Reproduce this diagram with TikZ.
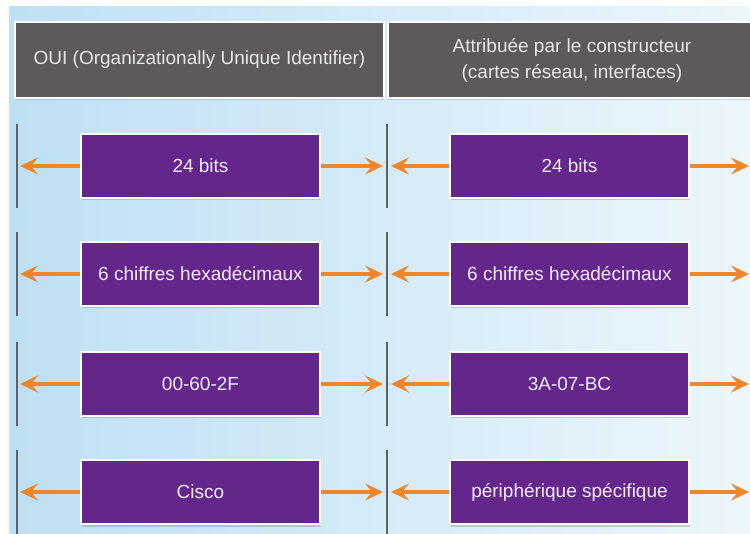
\documentclass[tikz,border=0pt]{standalone}
\usepackage{fontspec}
\setmainfont{Liberation Sans}
\usetikzlibrary{arrows.meta,shadows}
\definecolor{hdr}{RGB}{94,90,90}
\definecolor{hdrtxt}{RGB}{232,232,232}
\definecolor{purp}{RGB}{99,38,139}
\definecolor{fieldtxt}{RGB}{243,236,248}
\definecolor{org}{RGB}{240,134,42}
\definecolor{vline}{RGB}{92,98,106}
\definecolor{bgL}{RGB}{190,224,243}
\definecolor{bgR}{RGB}{236,246,251}
\begin{document}
\begin{tikzpicture}[x=1pt,y=-1pt,
  hdrbox/.style={draw=white, line width=2pt, fill=hdr, text=hdrtxt,
    font=\fontsize{19}{26}\selectfont, align=center, inner sep=0pt,
    minimum height=76pt,
    drop shadow={opacity=0.3, shadow xshift=0pt, shadow yshift=-2.5pt}},
  fieldbox/.style={draw=white, line width=1.5pt, fill=purp, text=fieldtxt,
    font=\fontsize{19}{23}\selectfont, minimum width=239pt, minimum height=64pt,
    inner sep=0pt,
    drop shadow={opacity=0.35, shadow xshift=0.5pt, shadow yshift=-2.5pt}},
  sepline/.style={draw=vline, line width=2.8pt},
  arr/.style={draw=org, line width=4.5pt,
    -{Stealth[length=18pt, width=17pt, inset=7pt]}}
]
\useasboundingbox (0,0) rectangle (750,534);
\fill[white] (0,0) rectangle (750,534);
\shade[left color=bgL, right color=bgR] (9,7) rectangle (750,534);

% headers
\node[hdrbox, minimum width=369pt] (h1) at (199.5,60) {OUI (Organizationally Unique Identifier)};
\node[hdrbox, minimum width=368pt] (h2) at (572,60) {Attribuée par le constructeur\\(cartes réseau, interfaces)};

% rows
\foreach \i/\y/\a/\b in {1/166/24 bits/24 bits,
                         2/274/6 chiffres hexadécimaux/6 chiffres hexadécimaux,
                         3/384/00-60-2F/3A-07-BC,
                         4/492/Cisco/périphérique spécifique}{
  \coordinate (sa\i) at (17,\y-42);
  \coordinate (sb\i) at (17,\y+42);
  \coordinate (ma\i) at (387,\y-42);
  \coordinate (mb\i) at (387,\y+42);
  \draw[sepline] (sa\i) -- (sb\i);
  \draw[sepline] (ma\i) -- (mb\i);
  \coordinate (tl\i) at (20,\y);
  \coordinate (tm\i) at (383,\y);
  \coordinate (tn\i) at (391,\y);
  \coordinate (tr\i) at (749,\y);
  \node[fieldbox] (L\i) at (200.5,\y) {\a};
  \node[fieldbox] (R\i) at (569.5,\y) {\b};
  \draw[arr] (L\i.west) -- (tl\i);
  \draw[arr] (L\i.east) -- (tm\i);
  \draw[arr] (R\i.west) -- (tn\i);
  \draw[arr] (R\i.east) -- (tr\i);
}
\end{tikzpicture}
\end{document}
